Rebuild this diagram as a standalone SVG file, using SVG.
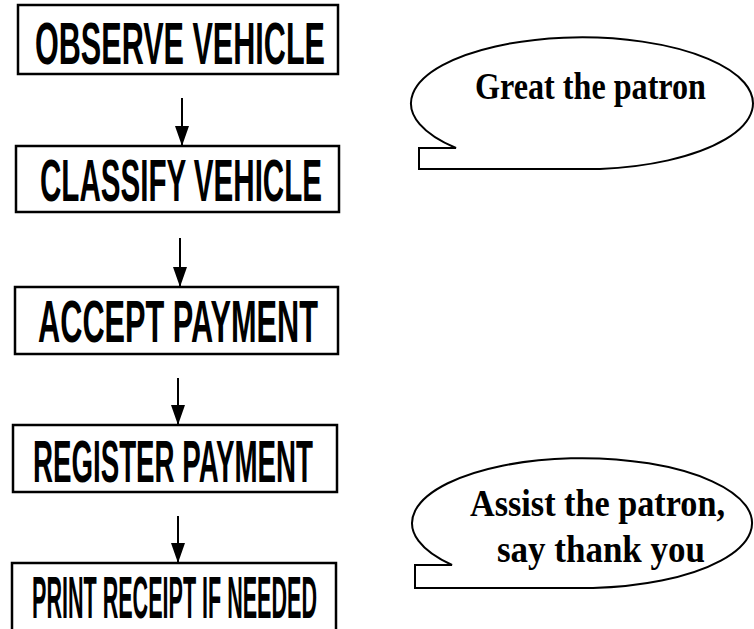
<svg xmlns="http://www.w3.org/2000/svg" width="754" height="629" viewBox="0 0 754 629">
<defs>
<marker id="ah" viewBox="0 0 20 14" refX="20" refY="7" markerWidth="20" markerHeight="14" markerUnits="userSpaceOnUse" orient="auto">
<path d="M0,0 L20,7 L0,14 Z" fill="#000"/>
</marker>
<style>
.box{fill:#fff;stroke:#000;stroke-width:2.5}
.bt{font-family:"Liberation Sans","DejaVu Sans",sans-serif;font-weight:bold;font-size:60px;fill:#000}
.call{fill:#fff;stroke:#000;stroke-width:2}
.ct{font-family:"Liberation Serif","DejaVu Serif",serif;font-weight:bold;font-size:38px;fill:#000}
.conn{stroke:#000;stroke-width:2;fill:none}
</style>
</defs>
<rect width="754" height="629" fill="#fff"/>
<g id="connectors">
<line class="conn" x1="182" y1="98" x2="182" y2="146" marker-end="url(#ah)"/>
<line class="conn" x1="180" y1="238" x2="180" y2="287" marker-end="url(#ah)"/>
<line class="conn" x1="178" y1="378" x2="178" y2="425" marker-end="url(#ah)"/>
<line class="conn" x1="178" y1="516" x2="178" y2="563" marker-end="url(#ah)"/>
</g>
<g id="observe">
<rect class="box" x="18" y="5" width="320" height="69"/>
<text class="bt" x="35" y="64" textLength="290" lengthAdjust="spacingAndGlyphs">OBSERVE VEHICLE</text>
</g>
<g id="classify">
<rect class="box" x="16" y="146" width="323" height="66"/>
<text class="bt" x="40" y="201" textLength="282" lengthAdjust="spacingAndGlyphs">CLASSIFY VEHICLE</text>
</g>
<g id="accept">
<rect class="box" x="15" y="287" width="323" height="67"/>
<text class="bt" x="38" y="342" textLength="280" lengthAdjust="spacingAndGlyphs">ACCEPT PAYMENT</text>
</g>
<g id="register">
<rect class="box" x="13" y="425" width="324" height="67"/>
<text class="bt" x="33" y="482" textLength="280" lengthAdjust="spacingAndGlyphs">REGISTER PAYMENT</text>
</g>
<g id="print">
<rect class="box" x="12" y="563" width="324" height="80"/>
<text class="bt" x="32" y="618" textLength="285" lengthAdjust="spacingAndGlyphs">PRINT RECEIPT IF NEEDED</text>
</g>
<g id="greet">
<path class="call" d="M456,148 A171,66 0 1 1 600,169 L419,169 L419,148 Z"/>
<text class="ct" x="475" y="99" textLength="231" lengthAdjust="spacingAndGlyphs">Great the patron</text>
</g>
<g id="assist">
<path class="call" d="M452,565 A170,65 0 1 1 593,588 L415,588 L415,565 Z"/>
<text class="ct" x="470" y="516" textLength="255" lengthAdjust="spacingAndGlyphs">Assist the patron,</text>
<text class="ct" x="497" y="562" textLength="208" lengthAdjust="spacingAndGlyphs">say thank you</text>
</g>
</svg>
